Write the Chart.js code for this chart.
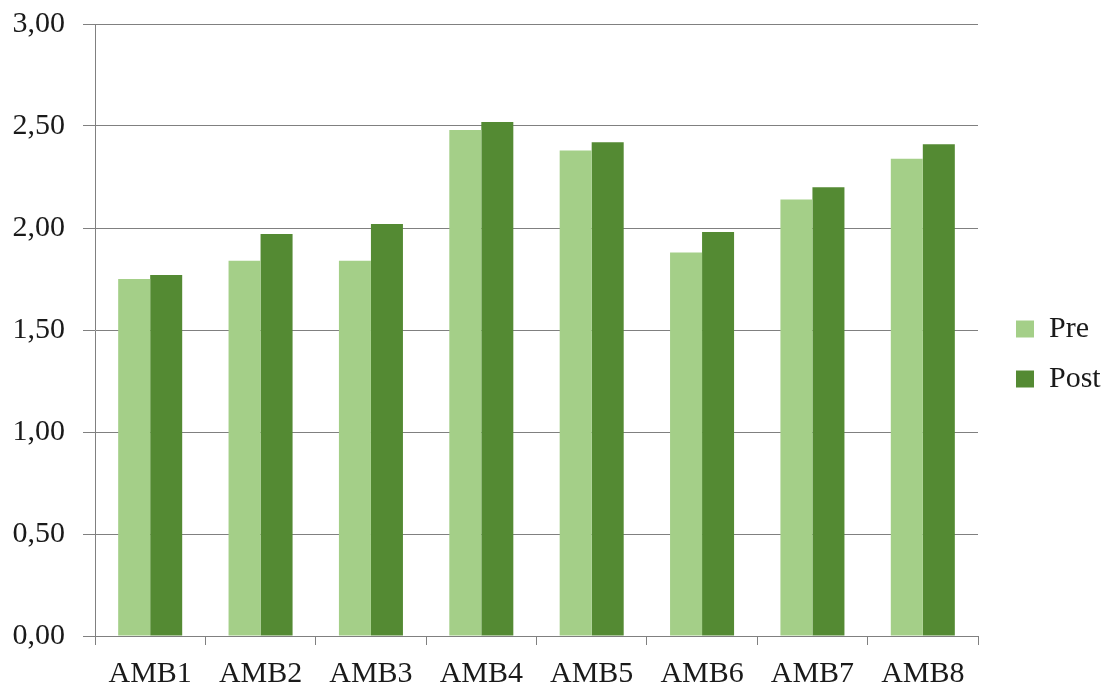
<!DOCTYPE html>
<html>
<head>
<meta charset="utf-8">
<script src="https://cdn.jsdelivr.net/npm/chart.js@4/dist/chart.umd.min.js"></script>
<style>
  body { margin: 0; background: #fff; }
  #wrap { width: 1103px; height: 688px; position: relative; }
</style>
</head>
<body>
<div id="wrap"><canvas id="myChart"></canvas></div>
<script>
const categorias = ['AMB1', 'AMB2', 'AMB3', 'AMB4', 'AMB5', 'AMB6', 'AMB7', 'AMB8'];
const pre = [1.75, 1.84, 1.84, 2.48, 2.38, 1.88, 2.14, 2.34];
const post = [1.77, 1.97, 2.02, 2.52, 2.42, 1.98, 2.20, 2.41];
const series = ['Pre', 'Post'];

const cinza = '#808080';
const fonte = { family: "'Liberation Serif', 'DejaVu Serif', serif", size: 30 };

// legenda com largura fixa e deslocada como no original
const legendaFixa = {
    id: 'legendaFixa',
    beforeLayout(chart) {
        const lg = chart.legend;
        if (lg && !lg._fixo) {
            const fit = lg.fit;
            lg.fit = function () {
                fit.call(this);
                this.width = 125;
            };
            lg._fixo = true;
        }
    },
    afterLayout(chart) {
        const lg = chart.legend;
        const dy = 327 - (lg.top + lg.bottom) / 2 + 27;
        lg.left = 996;
        lg.right = 1103;
        lg.top += dy;
        lg.bottom += dy;
    }
};

let ctx = document.getElementById('myChart').getContext('2d');

let myChart = new Chart(ctx, {
    type: 'bar',
    data: {
        labels: categorias,
        datasets: [{
            label: series[0],
            data: pre,
            backgroundColor: '#A4CF88',
            categoryPercentage: 0.58,
            barPercentage: 1
        }, {
            label: series[1],
            data: post,
            backgroundColor: '#548A33',
            categoryPercentage: 0.58,
            barPercentage: 1
        }]
    },
    options: {
        responsive: true,
        maintainAspectRatio: false,
        animation: false,
        layout: { padding: { top: 24, left: 0, right: 0, bottom: 0 } },
        plugins: {
            legend: {
                position: 'right',
                labels: {
                    boxWidth: 18,
                    boxHeight: 17,
                    padding: 20,
                    color: '#1a1a1a',
                    font: fonte
                }
            },
            tooltip: { enabled: false }
        },
        scales: {
            x: {
                afterFit: (scale) => { scale.height = 52; },
                grid: {
                    offset: true,
                    drawOnChartArea: false,
                    drawTicks: true,
                    tickLength: 9,
                    color: cinza
                },
                border: { color: cinza },
                ticks: { color: '#1a1a1a', font: fonte, padding: 11 }
            },
            y: {
                min: 0,
                max: 3,
                afterFit: (scale) => {
                    scale.width = 95;
                    scale.paddingTop = 0;
                    scale.paddingBottom = 0;
                },
                grid: { color: cinza, tickLength: 12 },
                border: { color: cinza },
                ticks: {
                    stepSize: 0.5,
                    color: '#1a1a1a',
                    font: fonte,
                    padding: 18,
                    callback: function (value) {
                        return value.toFixed(2).replace('.', ',');
                    }
                }
            }
        }
    },
    plugins: [legendaFixa]
});
</script>
</body>
</html>
